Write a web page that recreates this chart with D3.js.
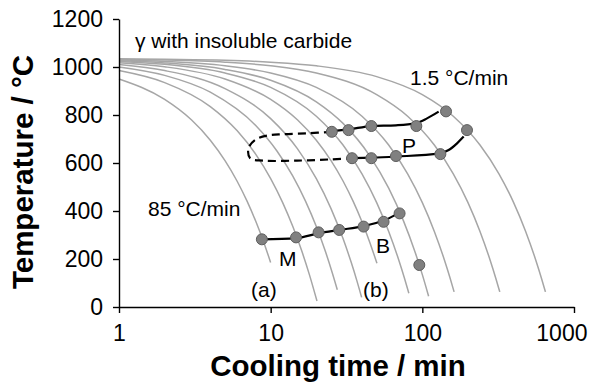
<!DOCTYPE html>
<html>
<head>
<meta charset="utf-8">
<script src="https://cdn.jsdelivr.net/npm/d3@7"></script>
<style>
  body { margin: 0; background: #fff; }
  svg { display: block; font-family: Arial, "Liberation Sans", sans-serif; }
</style>
</head>
<body>
<div id="chart"></div>
<script>
// cooling curves, [time (min), temperature (C)], one array per rate
var cool85 = [[1,950],[2,865],[3,780],[4,695],[5,610],[6,525],[7,440],[8,355],[9,270],[10,185]];
var cool50 = [[1,985],[2,935],[4,835],[6,735],[8,635],[10,535],[12,435],[14,335],[16,235],[18,135],[20.2,25]];
var cool35 = [[1,1000],[2,965],[4,895],[8,755],[11,650],[14,545],[17,440],[20,335],[23,230],[25.5,142],[27.5,72]];
var cool25 = [[1,1010],[2,985],[5,910],[10,785],[15,660],[20,535],[25,410],[30,285],[34,185],[37,110],[39.8,40]];
var cool17 = [[1,1018],[2,1001],[5,950],[10,865],[15,780],[20,695],[25,610],[30,525],[35,440],[40,355],[45,270],[50.2,182]];
var cool12 = [[1,1023],[2,1011],[5,975],[10,915],[20,795],[30,675],[40,555],[50,435],[60,315],[70,195],[76,123],[81.5,57]];
var cool9 = [[1,1026],[2,1017],[5,990],[10,945],[20,855],[30,765],[45,630],[60,495],[75,360],[90,225],[100,135],[110,45]];
var cool6 = [[1,1029],[2,1023],[5,1005],[10,975],[20,915],[40,795],[60,675],[80,555],[100,435],[120,315],[140,195],[152,123],[162,63]];
var cool3 = [[1,1032],[2,1029],[5,1020],[10,1005],[20,975],[50,885],[80,795],[120,675],[160,555],[200,435],[240,315],[280,195],[305,120],[324,63]];
var cool1_5 = [[1,1034],[2,1032],[5,1028],[10,1020],[20,1005],[50,960],[100,885],[160,795],[240,675],[320,555],[400,435],[480,315],[560,195],[610,120],[648,63]];
var coolingCurves = [cool85, cool50, cool35, cool25, cool17, cool12, cool9, cool6, cool3, cool1_5];

// transformation points
var psPoints = [[25.3,730],[32.6,737],[46.1,754],[91.3,754],[143.3,815]];
var pfPoints = [[34.4,620],[46.1,620],[67,629],[131.5,637],[197,737]];
var bsPoints = [[8.75,282],[14.7,290],[20.7,311],[28.3,321],[41,335],[55.5,355],[70.8,390]];
var msPoints = [[95.5,175]];

// boundary lines drawn through the points
var psLine = [[25.3,733],[32.6,740],[46.1,754],[67,757],[89.9,765],[107.4,786],[128.1,814]];
var pfLine = [[34.4,620],[46.1,622],[67.3,627],[130,640],[149.1,654],[169.4,682],[187.3,710]];
var bsLine = [[8.75,282],[14.7,287],[20.7,307],[28.3,321],[41,337],[55.5,360],[67,385]];
var noseLine = [[25.3,730],[17.8,724],[12.15,720],[9.44,714],[7.9,696],[7.14,661],[7.32,620],[8.96,610],[14.9,610],[24.7,615],[33,619]];

var xTicks = [1, 10, 100, 1000];
var yTicks = [0, 200, 400, 600, 800, 1000, 1200];

;(function(d3){
  var width = 593, height = 382;

  var svg = d3.select('#chart')
    .append('svg')
      .attr('width', width)
      .attr('height', height);

  var x = d3.scaleLog().domain([1, 1000]).range([119, 574]);
  var y = d3.scaleLinear().domain([0, 1200]).range([307, 19]);

  var smooth = d3.line()
    .x(function(d){ return x(d[0]); })
    .y(function(d){ return y(d[1]); })
    .curve(d3.curveMonotoneX);

  // grey cooling curves
  svg.append('g')
    .selectAll('path')
    .data(coolingCurves)
    .enter().append('path')
      .attr('d', smooth)
      .attr('fill', 'none')
      .attr('stroke', '#a6a6a6')
      .attr('stroke-width', 1.5);

  // white box behind (a), it hides part of the axis in the original
  svg.append('rect')
    .attr('x', 249).attr('y', 279)
    .attr('width', 34).attr('height', 27.5)
    .attr('fill', '#fff');

  // axes
  var xAxis = svg.append('g')
    .attr('transform', 'translate(0,307)')
    .call(d3.axisBottom(x).tickValues(xTicks).tickFormat(d3.format('d')).tickSize(6).tickSizeOuter(0).tickPadding(12));

  var yAxis = svg.append('g')
    .attr('transform', 'translate(119,0)')
    .call(d3.axisLeft(y).tickValues(yTicks).tickFormat(d3.format('d')).tickSize(6).tickSizeOuter(0).tickPadding(10));

  [xAxis, yAxis].forEach(function(g){
    g.selectAll('path, line').attr('stroke', '#000').attr('stroke-width', 1.4);
    g.selectAll('text').attr('fill', '#000').style('font-size', '23px').style('font-family', 'Arial, "Liberation Sans", sans-serif');
  });

  // last x label is pulled in so it stays inside the frame
  xAxis.selectAll('.tick text')
    .filter(function(d){ return d === 1000; })
    .attr('text-anchor', 'end')
    .attr('dx', 13);

  // dashed nose and solid boundaries
  svg.append('path')
    .attr('d', d3.line()
      .x(function(d){ return x(d[0]); })
      .y(function(d){ return y(d[1]); })
      .curve(d3.curveCatmullRom)(noseLine))
    .attr('fill', 'none')
    .attr('stroke', '#000')
    .attr('stroke-width', 2.2)
    .attr('stroke-dasharray', '8,5');

  svg.append('g')
    .selectAll('path')
    .data([psLine, pfLine, bsLine])
    .enter().append('path')
      .attr('d', smooth)
      .attr('fill', 'none')
      .attr('stroke', '#000')
      .attr('stroke-width', 2.2);

  svg.append('g')
    .selectAll('circle')
    .data(psPoints.concat(pfPoints, bsPoints, msPoints))
    .enter().append('circle')
      .attr('cx', function(d){ return x(d[0]); })
      .attr('cy', function(d){ return y(d[1]); })
      .attr('r', 5.5)
      .attr('fill', '#808080')
      .attr('stroke', '#5e5e5e')
      .attr('stroke-width', 1);

  // labels
  var notes = [
    { t: 'γ with insoluble carbide', x: 135, y: 48 },
    { t: '1.5 °C/min', x: 410, y: 85 },
    { t: '85 °C/min', x: 148, y: 216 },
    { t: 'P', x: 402, y: 152.5 },
    { t: 'B', x: 376, y: 252.5 },
    { t: 'M', x: 279, y: 266 },
    { t: '(a)', x: 251, y: 297 },
    { t: '(b)', x: 363, y: 297 }
  ];

  svg.append('g')
    .selectAll('text')
    .data(notes)
    .enter().append('text')
      .attr('x', function(d){ return d.x; })
      .attr('y', function(d){ return d.y; })
      .style('font-size', '21px')
      .attr('fill', '#000')
      .text(function(d){ return d.t; });

  svg.append('text')
    .attr('x', 338).attr('y', 376)
    .attr('text-anchor', 'middle')
    .style('font-size', '29.5px')
    .style('font-weight', 'bold')
    .text('Cooling time / min');

  svg.append('text')
    .attr('transform', 'translate(33,172) rotate(-90)')
    .attr('text-anchor', 'middle')
    .style('font-size', '29.5px')
    .style('font-weight', 'bold')
    .text('Temperature / °C');
})(d3);
</script>
</body>
</html>
